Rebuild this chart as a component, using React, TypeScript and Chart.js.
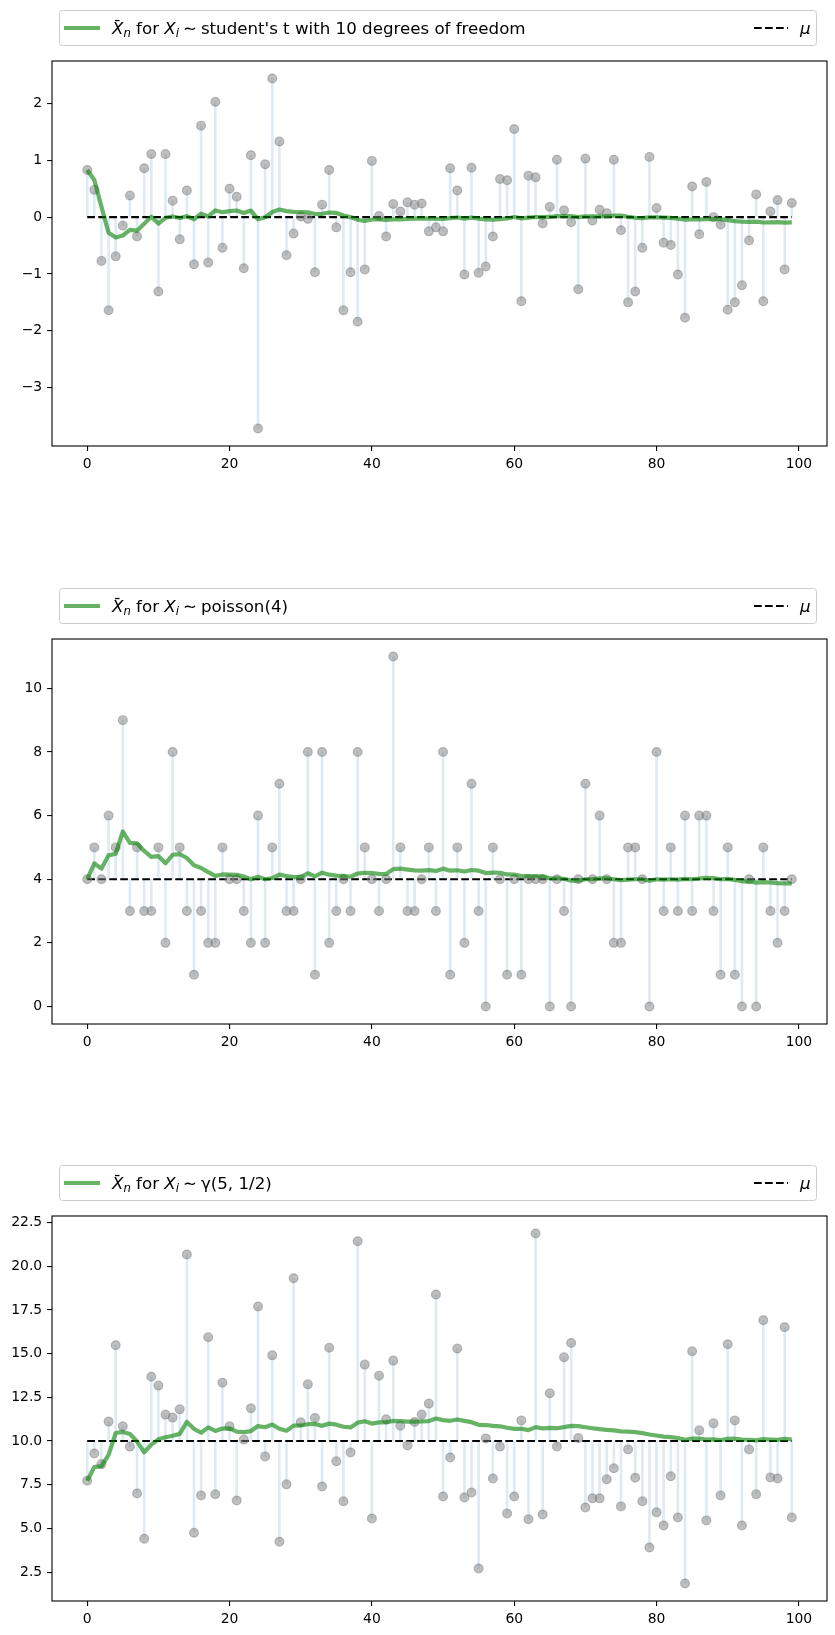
import { useEffect, useRef } from "react";
import { Chart, registerables } from "chart.js";

Chart.register(...registerables);

// ---------------- data ----------------
const X_TICKS = [0, 20, 40, 60, 80, 100];

// student's t, 10 dof
const T_VALUES = [
  0.83, 0.48, -0.77, -1.64, -0.69, -0.15, 0.38, -0.34, 0.86, 1.11,
  -1.31, 1.11, 0.29, -0.39, 0.47, -0.83, 1.61, -0.8, 2.03, -0.54,
  0.5, 0.36, -0.9, 1.09, -3.72, 0.93, 2.44, 1.33, -0.67, -0.29,
  0.01, -0.03, -0.97, 0.22, 0.83, -0.18, -1.64, -0.97, -1.84, -0.92,
  0.99, 0.02, -0.34, 0.23, 0.1, 0.26, 0.22, 0.24, -0.25, -0.18,
  -0.25, 0.86, 0.47, -1.01, 0.87, -0.98, -0.87, -0.34, 0.67, 0.65,
  1.55, -1.48, 0.73, 0.7, -0.11, 0.18, 1.01, 0.12, -0.09, -1.27,
  1.03, -0.06, 0.13, 0.07, 1.01, -0.23, -1.5, -1.31, -0.54, 1.06,
  0.16, -0.45, -0.49, -1.01, -1.77, 0.54, -0.3, 0.62, 0.0, -0.13,
  -1.63, -1.5, -1.2, -0.41, 0.4, -1.48, 0.1, 0.3, -0.92, 0.25,
];
const T_MEANS = [
  0.83, 0.655, 0.18, -0.275, -0.358, -0.323, -0.223, -0.238, -0.116, 0.007,
  -0.113, -0.011, 0.012, -0.016, 0.016, -0.037, 0.06, 0.012, 0.118, 0.086,
  0.105, 0.117, 0.073, 0.115, -0.038, -0.001, 0.089, 0.134, 0.106, 0.093,
  0.09, 0.086, 0.054, 0.059, 0.081, 0.074, 0.028, 0.001, -0.046, -0.068,
  -0.042, -0.041, -0.047, -0.041, -0.038, -0.032, -0.026, -0.021, -0.025, -0.028,
  -0.033, -0.016, -0.006, -0.025, -0.009, -0.026, -0.041, -0.046, -0.034, -0.023,
  0.003, -0.021, -0.009, 0.002, 0.001, 0.003, 0.018, 0.02, 0.018, 0.0,
  0.014, 0.013, 0.015, 0.016, 0.029, 0.026, 0.006, -0.011, -0.018, -0.004,
  -0.002, -0.008, -0.014, -0.026, -0.046, -0.039, -0.042, -0.035, -0.034, -0.035,
  -0.053, -0.069, -0.081, -0.084, -0.079, -0.094, -0.092, -0.088, -0.096, -0.093,
];
const T_MU = 0;
const T_Y_TICKS = [-3, -2, -1, 0, 1, 2];

// poisson(4)
const P_VALUES = [
  4, 5, 4, 6, 5, 9, 3, 5, 3, 3,
  5, 2, 8, 5, 3, 1, 3, 2, 2, 5,
  4, 4, 3, 2, 6, 2, 5, 7, 3, 3,
  4, 8, 1, 8, 2, 3, 4, 3, 8, 5,
  4, 3, 4, 11, 5, 3, 3, 4, 5, 3,
  8, 1, 5, 2, 7, 3, 0, 5, 4, 1,
  4, 1, 4, 4, 4, 0, 4, 3, 0, 4,
  7, 4, 6, 4, 2, 2, 5, 5, 4, 0,
  8, 3, 5, 3, 6, 3, 6, 6, 3, 1,
  5, 1, 0, 4, 0, 5, 3, 2, 3, 4,
];
const P_MEANS = [
  4.0, 4.5, 4.333, 4.75, 4.8, 5.5, 5.143, 5.125, 4.889, 4.7,
  4.727, 4.5, 4.769, 4.786, 4.667, 4.438, 4.353, 4.222, 4.105, 4.15,
  4.143, 4.136, 4.087, 4.0, 4.08, 4.0, 4.037, 4.143, 4.103, 4.067,
  4.065, 4.188, 4.091, 4.206, 4.143, 4.111, 4.108, 4.079, 4.179, 4.2,
  4.195, 4.167, 4.163, 4.318, 4.333, 4.304, 4.277, 4.271, 4.286, 4.26,
  4.333, 4.269, 4.283, 4.241, 4.291, 4.268, 4.193, 4.207, 4.203, 4.15,
  4.148, 4.097, 4.095, 4.094, 4.092, 4.03, 4.03, 4.015, 3.957, 3.957,
  4.0, 4.0, 4.027, 4.027, 4.0, 3.974, 3.987, 4.0, 4.0, 3.95,
  4.0, 3.988, 4.0, 3.988, 4.012, 4.0, 4.023, 4.045, 4.034, 4.0,
  4.011, 3.978, 3.935, 3.936, 3.895, 3.906, 3.897, 3.878, 3.869, 3.87,
];
const P_MU = 4;
const P_Y_TICKS = [0, 2, 4, 6, 8, 10];

// gamma(5, 1/2)
const G_VALUES = [
  7.73, 9.29, 8.68, 11.11, 15.48, 10.84, 9.68, 7.0, 4.41, 13.68,
  13.17, 11.51, 11.34, 11.81, 20.67, 4.75, 6.89, 15.94, 6.95, 13.34,
  10.84, 6.6, 10.08, 11.87, 17.69, 9.12, 14.9, 4.24, 7.52, 19.31,
  11.07, 13.24, 11.32, 7.4, 15.34, 8.84, 6.55, 9.35, 21.43, 14.37,
  5.57, 13.74, 11.24, 14.6, 10.88, 9.75, 11.09, 11.51, 12.14, 18.38,
  6.83, 9.06, 15.29, 6.77, 7.06, 2.71, 10.15, 7.86, 9.68, 5.86,
  6.83, 11.18, 5.52, 21.87, 5.8, 12.73, 9.69, 14.79, 15.61, 10.17,
  6.2, 6.72, 6.72, 7.81, 8.44, 6.26, 9.52, 7.9, 6.55, 3.91,
  5.92, 5.17, 7.98, 5.63, 1.85, 15.13, 10.61, 5.46, 11.01, 6.89,
  15.53, 11.18, 5.17, 9.52, 6.95, 16.91, 7.92, 7.86, 16.51, 5.63,
];
const G_MEANS = [
  7.73, 8.51, 8.567, 9.203, 10.458, 10.522, 10.401, 9.976, 9.358, 9.79,
  10.097, 10.215, 10.302, 10.409, 11.093, 10.697, 10.473, 10.777, 10.575, 10.714,
  10.72, 10.532, 10.513, 10.569, 10.854, 10.787, 10.94, 10.7, 10.591, 10.881,
  10.887, 10.961, 10.972, 10.867, 10.995, 10.935, 10.816, 10.778, 11.051, 11.134,
  10.998, 11.063, 11.067, 11.148, 11.142, 11.112, 11.111, 11.119, 11.14, 11.285,
  11.198, 11.157, 11.234, 11.152, 11.077, 10.928, 10.914, 10.862, 10.842, 10.759,
  10.694, 10.702, 10.62, 10.796, 10.719, 10.749, 10.733, 10.793, 10.863, 10.853,
  10.788, 10.731, 10.676, 10.637, 10.608, 10.551, 10.537, 10.504, 10.454, 10.372,
  10.317, 10.254, 10.227, 10.172, 10.074, 10.133, 10.138, 10.085, 10.096, 10.06,
  10.12, 10.132, 10.078, 10.072, 10.039, 10.111, 10.088, 10.066, 10.131, 10.086,
];
const G_MU = 10;
const G_Y_TICKS = [2.5, 5, 7.5, 10, 12.5, 15, 17.5, 20, 22.5];

const DIST_LABELS = ["student's t with 10 degrees of freedom", "poisson(4)", "γ(5, 1/2)"];

// ---------------- styles ----------------
const FONT = "'DejaVu Sans', sans-serif";
const TICK_SIZE = 13.9;
const LEG_SIZE = 16.67;
const MEAN_COLOR = "rgba(0,128,0,0.6)";
const PT_COLOR = "rgba(128,128,128,0.5)";
const STEM_COLOR = "rgba(31,119,180,0.15)";
const W = 835;
const H = 480;

function fmtMinus(v: number) {
  return v < 0 ? "\u2212" + String(Math.abs(v)) : String(v);
}

const framePlugin = {
  id: "frame",
  afterDatasetsDraw(chart: any) {
    const { ctx, chartArea } = chart;
    ctx.save();
    ctx.strokeStyle = "#000";
    ctx.lineWidth = 1.1;
    ctx.strokeRect(chartArea.left, chartArea.top, chartArea.right - chartArea.left, chartArea.bottom - chartArea.top);
    ctx.restore();
  },
};

function makeLegendPlugin(dist: string) {
  return {
    id: "mathLegend",
    afterDraw(chart: any) {
      const ctx = chart.ctx;
      ctx.save();
      const bx0 = 59.5, by0 = 10.5, bx1 = 816.5, by1 = 45.5, r = 3;
      ctx.beginPath();
      ctx.moveTo(bx0 + r, by0);
      ctx.lineTo(bx1 - r, by0);
      ctx.arcTo(bx1, by0, bx1, by0 + r, r);
      ctx.lineTo(bx1, by1 - r);
      ctx.arcTo(bx1, by1, bx1 - r, by1, r);
      ctx.lineTo(bx0 + r, by1);
      ctx.arcTo(bx0, by1, bx0, by1 - r, r);
      ctx.lineTo(bx0, by0 + r);
      ctx.arcTo(bx0, by0, bx0 + r, by0, r);
      ctx.closePath();
      ctx.fillStyle = "rgba(255,255,255,0.8)";
      ctx.fill();
      ctx.strokeStyle = "#cccccc";
      ctx.lineWidth = 1;
      ctx.stroke();

      const cy = 28;
      ctx.strokeStyle = MEAN_COLOR;
      ctx.lineWidth = 4.2;
      ctx.lineCap = "butt";
      ctx.beginPath();
      ctx.moveTo(64, cy);
      ctx.lineTo(100, cy);
      ctx.stroke();

      const base = 33.5;
      const small = LEG_SIZE * 0.7;
      let x = 112;
      ctx.fillStyle = "#000";
      ctx.textAlign = "left";
      ctx.textBaseline = "alphabetic";
      ctx.font = `italic ${LEG_SIZE}px ${FONT}`;
      ctx.fillText("X", x, base);
      const wX = ctx.measureText("X").width;
      ctx.fillRect(x + 3, base - 13.6, 4.5, 1.3);
      x += wX;
      ctx.font = `italic ${small}px ${FONT}`;
      ctx.fillText("n", x, base + 3.6);
      x += ctx.measureText("n").width;
      ctx.font = `${LEG_SIZE}px ${FONT}`;
      ctx.fillText(" for ", x, base);
      x += ctx.measureText(" for ").width;
      ctx.font = `italic ${LEG_SIZE}px ${FONT}`;
      ctx.fillText("X", x, base);
      x += wX;
      ctx.font = `italic ${small}px ${FONT}`;
      ctx.fillText("i", x, base + 3.6);
      x += ctx.measureText("i").width + 4;
      ctx.font = `${LEG_SIZE}px ${FONT}`;
      ctx.fillText("\u223C", x, base);
      x += ctx.measureText("\u223C").width + 4;
      ctx.fillText(dist, x, base);

      ctx.strokeStyle = "#000";
      ctx.lineWidth = 2.1;
      ctx.setLineDash([7.7, 3.3]);
      ctx.beginPath();
      ctx.moveTo(754, cy);
      ctx.lineTo(788, cy);
      ctx.stroke();
      ctx.setLineDash([]);
      ctx.font = `italic ${LEG_SIZE}px ${FONT}`;
      ctx.fillText("\u03BC", 800, base);
      ctx.restore();
    },
  };
}

function buildConfig(values: number[], means: number[], mu: number, yTicks: number[], yFmt: (v: number) => string, dist: string) {
  const lo = Math.min(...values);
  const hi = Math.max(...values);
  const pad = (hi - lo) * 0.05;
  const n = values.length;
  const xpad = (n - 1) * 0.05;
  const gridOpts = {
    offset: false,
    drawOnChartArea: false,
    drawTicks: true,
    tickLength: 4.9,
    tickWidth: 1.1,
    tickColor: "#000",
    color: "#000",
    lineWidth: 1.1,
  };
  const tickFont = { family: FONT, size: TICK_SIZE };
  return {
    type: "scatter",
    data: {
      datasets: [
        {
          type: "bar",
          data: values.map((v, i) => ({ x: i, y: [mu, v] })),
          backgroundColor: STEM_COLOR,
          borderWidth: 0,
          barThickness: 2,
          order: 4,
        },
        {
          type: "line",
          data: [
            { x: 0, y: mu },
            { x: n - 1, y: mu },
          ],
          borderColor: "#000",
          borderWidth: 2.1,
          borderDash: [7.7, 3.3],
          pointRadius: 0,
          showLine: true,
          fill: false,
          order: 3,
        },
        {
          type: "scatter",
          data: values.map((v, i) => ({ x: i, y: v })),
          backgroundColor: PT_COLOR,
          borderColor: PT_COLOR,
          borderWidth: 1.2,
          pointRadius: 4.4,
          order: 2,
        },
        {
          type: "line",
          data: means.map((m, i) => ({ x: i, y: m })),
          borderColor: MEAN_COLOR,
          borderWidth: 4.2,
          borderJoinStyle: "round",
          pointRadius: 0,
          showLine: true,
          fill: false,
          tension: 0,
          order: 1,
        },
      ],
    },
    options: {
      animation: false,
      responsive: false,
      devicePixelRatio: 1,
      events: [],
      layout: { padding: { top: 61, right: 8, bottom: 4, left: 0 } },
      plugins: { legend: { display: false }, tooltip: { enabled: false } },
      scales: {
        x: {
          type: "linear",
          min: -xpad,
          max: n - 1 + xpad,
          offset: false,
          afterBuildTicks: (axis: any) => {
            axis.ticks = X_TICKS.map((v) => ({ value: v }));
          },
          afterFit: (s: any) => {
            s.height = 30;
          },
          grid: gridOpts,
          border: { display: false },
          ticks: { font: tickFont, color: "#000", padding: 4.9, maxRotation: 0, autoSkip: false, callback: (v: any) => String(v) },
        },
        y: {
          type: "linear",
          min: lo - pad,
          max: hi + pad,
          afterBuildTicks: (axis: any) => {
            axis.ticks = yTicks.map((v) => ({ value: v }));
          },
          afterFit: (s: any) => {
            s.width = 52;
          },
          grid: gridOpts,
          border: { display: false },
          ticks: { font: tickFont, color: "#000", padding: 4.9, autoSkip: false, callback: (v: any) => yFmt(Number(v)) },
        },
      },
    },
    plugins: [framePlugin, makeLegendPlugin(dist)],
  };
}

function Panel({ top, config }: { top: number; config: any }) {
  const ref = useRef<HTMLCanvasElement | null>(null);
  useEffect(() => {
    if (!ref.current) return;
    const chart = new Chart(ref.current, config);
    return () => chart.destroy();
  }, []);
  return <canvas ref={ref} width={W} height={H} style={{ position: "absolute", left: 0, top, width: W, height: H }} />;
}

export default function App() {
  const c1 = buildConfig(T_VALUES, T_MEANS, T_MU, T_Y_TICKS, fmtMinus, DIST_LABELS[0]);
  const c2 = buildConfig(P_VALUES, P_MEANS, P_MU, P_Y_TICKS, (v) => String(v), DIST_LABELS[1]);
  const c3 = buildConfig(G_VALUES, G_MEANS, G_MU, G_Y_TICKS, (v) => v.toFixed(1), DIST_LABELS[2]);
  return (
    <div style={{ position: "absolute", left: 0, top: 0, width: W, height: 1635, background: "#fff" }}>
      <Panel top={0} config={c1} />
      <Panel top={578} config={c2} />
      <Panel top={1155} config={c3} />
    </div>
  );
}
